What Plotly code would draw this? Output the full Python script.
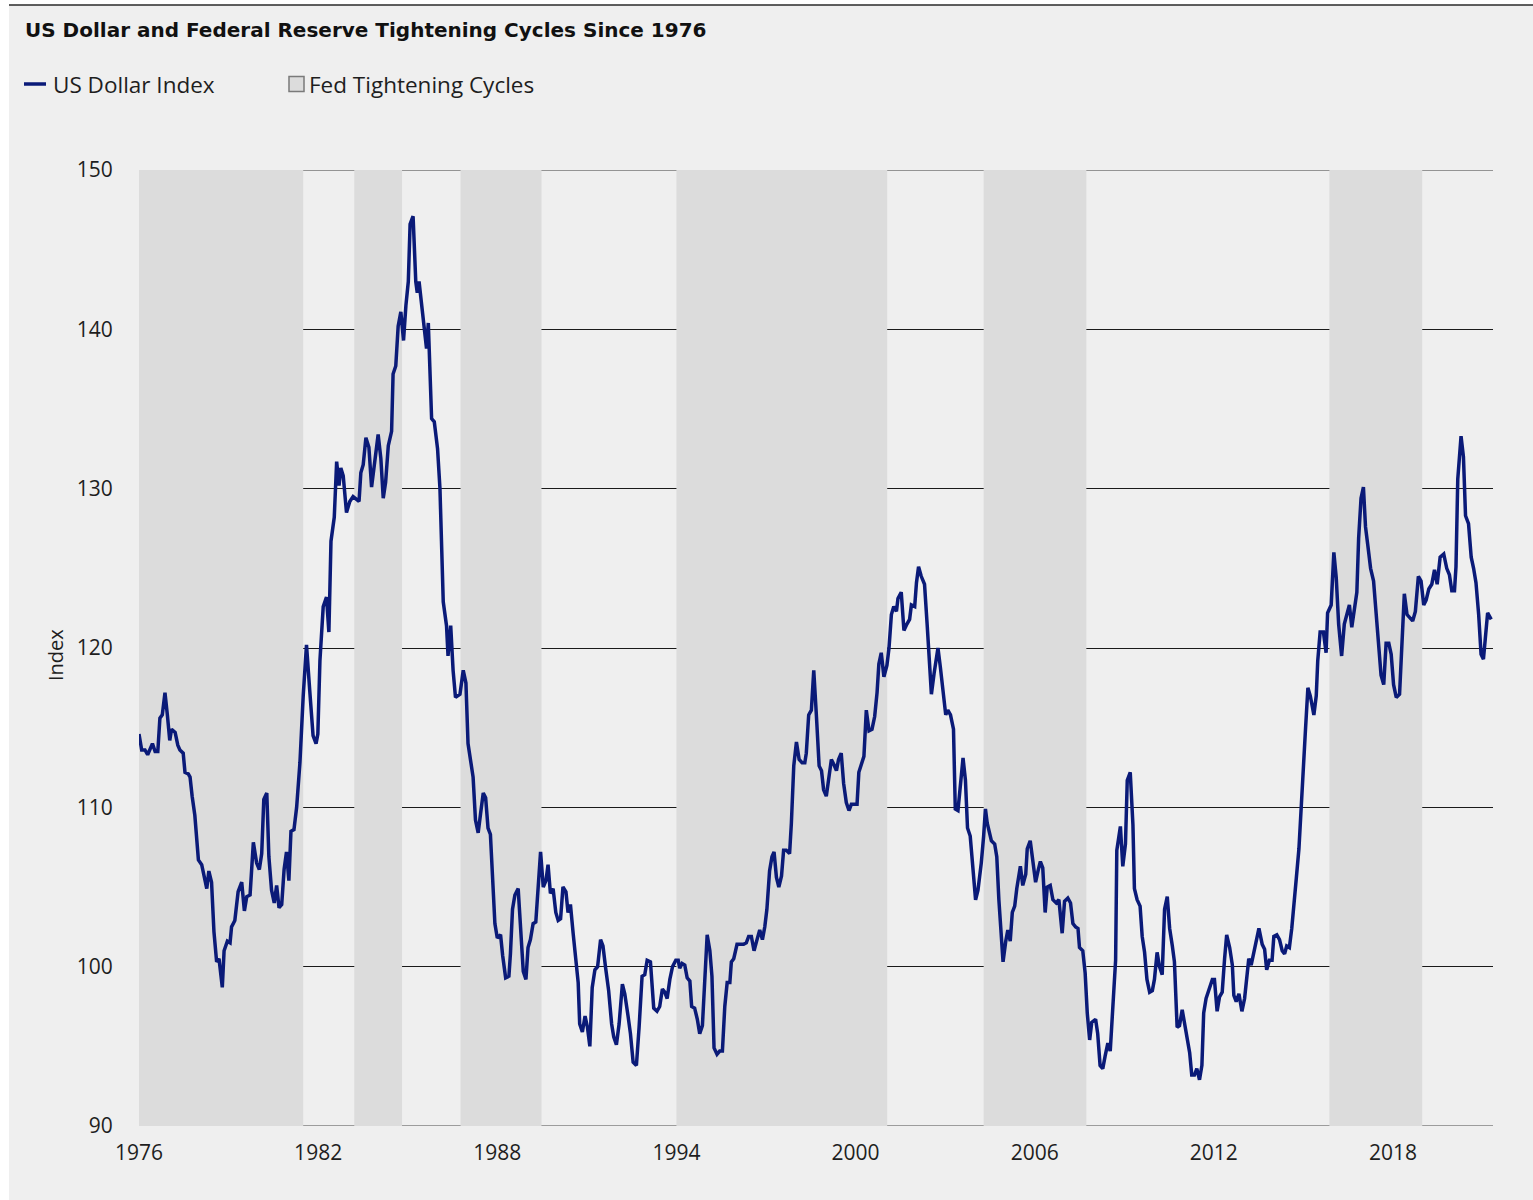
import plotly.graph_objects as go

# ---------------- data ----------------
years = [
    1976.00, 1976.09, 1976.20, 1976.29, 1976.45, 1976.54, 1976.63, 1976.70, 1976.78, 1976.87, 1976.95,
    1977.03, 1977.09, 1977.21, 1977.30, 1977.37, 1977.48, 1977.54, 1977.65, 1977.71, 1977.78, 1977.87, 1977.99,
    1978.10, 1978.27, 1978.34, 1978.43, 1978.51, 1978.60, 1978.68, 1978.79, 1978.85, 1978.96,
    1979.05, 1979.10, 1979.21, 1979.32, 1979.44, 1979.53, 1979.61, 1979.72, 1979.83, 1979.94,
    1980.03, 1980.11, 1980.18, 1980.28, 1980.35, 1980.44, 1980.53, 1980.61, 1980.69, 1980.78, 1980.86, 1980.94,
    1981.02, 1981.09, 1981.19, 1981.28, 1981.39, 1981.50, 1981.61, 1981.72, 1981.83, 1981.93, 1981.99,
    1982.06, 1982.17, 1982.28, 1982.36, 1982.43, 1982.54, 1982.62, 1982.70, 1982.76, 1982.84, 1982.95,
    1983.06, 1983.17, 1983.25, 1983.37, 1983.43, 1983.51, 1983.60, 1983.70, 1983.79, 1983.90,
    1984.01, 1984.10, 1984.18, 1984.26, 1984.35, 1984.46, 1984.51, 1984.60, 1984.68, 1984.77, 1984.86, 1984.94,
    1985.02, 1985.08, 1985.18, 1985.27, 1985.32, 1985.38, 1985.46, 1985.55, 1985.63, 1985.69, 1985.74, 1985.80, 1985.89,
    1986.00, 1986.08, 1986.13, 1986.19, 1986.30, 1986.35, 1986.44, 1986.52, 1986.60, 1986.75, 1986.86, 1986.95,
    1987.02, 1987.10, 1987.19, 1987.27, 1987.36, 1987.44, 1987.53, 1987.61, 1987.69, 1987.77, 1987.84, 1987.92,
    1988.00, 1988.11, 1988.18, 1988.28, 1988.39, 1988.44, 1988.51, 1988.59, 1988.70, 1988.78, 1988.87, 1988.96,
    1989.03, 1989.11, 1989.20, 1989.29, 1989.37, 1989.45, 1989.54, 1989.63, 1989.70, 1989.78, 1989.87, 1989.96,
    1990.04, 1990.12, 1990.20, 1990.30, 1990.37, 1990.45, 1990.54, 1990.63, 1990.71, 1990.76, 1990.85, 1990.94,
    1991.02, 1991.10, 1991.18, 1991.27, 1991.36, 1991.46, 1991.54, 1991.63, 1991.73, 1991.83, 1991.90, 1991.99,
    1992.08, 1992.19, 1992.27, 1992.38, 1992.46, 1992.55, 1992.66, 1992.75, 1992.85, 1992.94,
    1993.02, 1993.13, 1993.24, 1993.35, 1993.44, 1993.53, 1993.61, 1993.69, 1993.78, 1993.87, 1993.98,
    1994.06, 1994.11, 1994.19, 1994.28, 1994.36, 1994.45, 1994.51, 1994.61, 1994.70, 1994.78, 1994.87, 1994.95,
    1995.03, 1995.12, 1995.19, 1995.26, 1995.36, 1995.45, 1995.54, 1995.62, 1995.70, 1995.79, 1995.84, 1995.92,
    1996.03, 1996.14, 1996.25, 1996.34, 1996.42, 1996.51, 1996.60, 1996.70, 1996.79, 1996.88, 1996.96,
    1997.03, 1997.12, 1997.20, 1997.27, 1997.35, 1997.43, 1997.52, 1997.59, 1997.68, 1997.79, 1997.85, 1997.93,
    1998.02, 1998.11, 1998.21, 1998.30, 1998.35, 1998.43, 1998.52, 1998.60, 1998.69, 1998.78, 1998.86, 1998.93,
    1999.02, 1999.10, 1999.19, 1999.27, 1999.36, 1999.43, 1999.52, 1999.60, 1999.69, 1999.78, 1999.86, 1999.97,
    2000.05, 2000.11, 2000.19, 2000.28, 2000.36, 2000.45, 2000.55, 2000.64, 2000.72, 2000.78, 2000.86, 2000.95,
    2001.05, 2001.12, 2001.20, 2001.28, 2001.37, 2001.42, 2001.53, 2001.62, 2001.72, 2001.81, 2001.87, 2001.98,
    2002.04, 2002.11, 2002.20, 2002.31, 2002.40, 2002.46, 2002.54, 2002.63, 2002.76, 2002.84, 2002.93,
    2003.02, 2003.09, 2003.18, 2003.28, 2003.34, 2003.43, 2003.51, 2003.60, 2003.68, 2003.75, 2003.84, 2003.93,
    2004.02, 2004.10, 2004.21, 2004.29, 2004.35, 2004.41, 2004.55, 2004.66, 2004.73, 2004.80, 2004.86, 2004.94,
    2005.03, 2005.10, 2005.18, 2005.25, 2005.33, 2005.40, 2005.52, 2005.60, 2005.70, 2005.75, 2005.85, 2005.94,
    2006.03, 2006.11, 2006.19, 2006.27, 2006.35, 2006.42, 2006.52, 2006.61, 2006.72, 2006.81, 2006.92,
    2007.00, 2007.11, 2007.20, 2007.28, 2007.37, 2007.45, 2007.50, 2007.61, 2007.69, 2007.76, 2007.84, 2007.91,
    2008.04, 2008.11, 2008.19, 2008.28, 2008.36, 2008.45, 2008.53, 2008.62, 2008.71, 2008.75, 2008.87, 2008.95,
    2009.04, 2009.10, 2009.20, 2009.29, 2009.34, 2009.43, 2009.53, 2009.60, 2009.68, 2009.76, 2009.85, 2009.94,
    2010.01, 2010.10, 2010.18, 2010.27, 2010.35, 2010.44, 2010.52, 2010.61, 2010.68, 2010.77, 2010.85, 2010.94,
    2011.02, 2011.10, 2011.19, 2011.26, 2011.35, 2011.43, 2011.52, 2011.60, 2011.66, 2011.74, 2011.86, 2011.95,
    2012.02, 2012.11, 2012.19, 2012.28, 2012.36, 2012.43, 2012.53, 2012.62, 2012.67, 2012.75, 2012.84, 2012.94,
    2013.03, 2013.10, 2013.17, 2013.25, 2013.34, 2013.42, 2013.51, 2013.62, 2013.70, 2013.77, 2013.86, 2013.95,
    2014.01, 2014.11, 2014.20, 2014.29, 2014.37, 2014.44, 2014.53, 2014.61, 2014.68, 2014.76, 2014.85, 2014.92,
    2015.00, 2015.07, 2015.15, 2015.23, 2015.35, 2015.43, 2015.48, 2015.56, 2015.67, 2015.76, 2015.81, 2015.93,
    2016.02, 2016.10, 2016.18, 2016.28, 2016.37, 2016.45, 2016.54, 2016.62, 2016.71, 2016.79, 2016.85, 2016.93,
    2017.01, 2017.08, 2017.16, 2017.25, 2017.35, 2017.44, 2017.51, 2017.60, 2017.69, 2017.77, 2017.86, 2017.94,
    2018.02, 2018.11, 2018.22, 2018.31, 2018.38, 2018.47, 2018.57, 2018.66, 2018.75, 2018.85, 2018.94,
    2019.03, 2019.11, 2019.20, 2019.30, 2019.39, 2019.48, 2019.58, 2019.70, 2019.80, 2019.89, 2019.97,
    2020.06, 2020.11, 2020.17, 2020.28, 2020.36, 2020.43, 2020.53, 2020.62, 2020.70, 2020.78, 2020.87, 2020.95,
    2021.03, 2021.09, 2021.17, 2021.29,
]

usd_index = [
    114.6, 113.6, 113.6, 113.3, 114.0, 113.5, 113.5, 115.6, 115.8, 117.2, 115.8,
    114.2, 114.9, 114.7, 113.9, 113.6, 113.4, 112.2, 112.1, 111.9, 110.7, 109.5, 106.7,
    106.4, 104.9, 106.0, 105.3, 102.2, 100.3, 100.5, 98.7, 101.0, 101.6,
    101.5, 102.5, 102.9, 104.7, 105.3, 103.5, 104.4, 104.5, 107.8, 106.5,
    106.1, 107.1, 110.5, 110.9, 106.9, 104.8, 104.0, 105.1, 103.7, 103.9, 106.1, 107.2,
    105.4, 108.5, 108.6, 110.0, 112.8, 117.0, 120.2, 117.3, 114.5, 114.0, 114.6,
    119.2, 122.6, 123.2, 121.0, 126.7, 128.2, 131.7, 130.2, 131.3, 130.8, 128.5,
    129.2, 129.5, 129.4, 129.2, 131.0, 131.5, 133.2, 132.6, 130.1, 131.9,
    133.4, 131.9, 129.4, 130.4, 132.7, 133.6, 137.2, 137.7, 140.2, 141.1, 139.3, 141.5,
    143.0, 146.6, 147.1, 143.0, 142.3, 143.0, 141.7, 140.3, 138.8, 140.4, 137.8, 134.4, 134.2,
    132.5, 130.0, 125.8, 122.9, 121.4, 119.5, 121.4, 118.6, 116.9, 117.1, 118.6, 117.8,
    114.0, 113.0, 111.9, 109.2, 108.4, 109.6, 110.9, 110.6, 108.7, 108.3, 105.9, 102.7,
    101.8, 102.0, 100.7, 99.3, 99.4, 100.8, 103.6, 104.5, 104.9, 102.3, 99.7, 99.2,
    101.2, 101.7, 102.7, 102.8, 105.2, 107.2, 105.0, 105.4, 106.4, 104.6, 104.9, 103.4,
    102.9, 103.0, 105.0, 104.7, 103.4, 103.9, 102.1, 100.4, 99.0, 96.4, 95.9, 96.9,
    96.2, 95.0, 98.7, 99.8, 100.0, 101.7, 101.3, 99.9, 98.5, 96.4, 95.6, 95.1,
    96.4, 98.9, 98.3, 96.9, 95.8, 94.0, 93.8, 96.2, 99.4, 99.5,
    100.4, 100.3, 97.4, 97.2, 97.5, 98.6, 98.4, 98.0, 99.2, 100.0, 100.4,
    100.4, 99.9, 100.2, 100.1, 99.3, 99.1, 97.5, 97.4, 96.7, 95.8, 96.3, 99.2,
    102.0, 101.0, 99.4, 94.9, 94.5, 94.7, 94.7, 97.5, 99.0, 99.0, 100.3, 100.5,
    101.4, 101.4, 101.4, 101.5, 101.9, 101.9, 101.0, 101.7, 102.3, 101.7, 102.5,
    103.6, 106.0, 106.9, 107.2, 105.6, 105.0, 105.7, 107.3, 107.3, 107.1, 109.0, 112.6,
    114.1, 113.0, 112.8, 112.8, 113.4, 115.8, 116.1, 118.6, 115.7, 112.6, 112.3, 111.1,
    110.7, 111.7, 113.0, 112.7, 112.3, 113.0, 113.4, 111.5, 110.3, 109.8, 110.2, 110.2,
    110.2, 112.2, 112.7, 113.2, 116.1, 114.8, 114.9, 115.7, 117.2, 119.0, 119.7, 118.2,
    118.9, 120.0, 122.1, 122.6, 122.3, 123.1, 123.5, 121.1, 121.5, 121.8, 122.7, 122.6,
    124.1, 125.1, 124.5, 124.0, 121.4, 119.5, 117.1, 118.4, 120.0, 118.8, 117.4,
    115.8, 116.1, 115.8, 114.9, 109.9, 109.8, 111.5, 113.1, 111.7, 108.7, 108.2, 106.3,
    104.2, 104.8, 106.5, 108.2, 109.9, 109.0, 107.9, 107.7, 106.9, 104.2, 102.1, 100.3,
    101.6, 102.3, 101.6, 103.4, 103.8, 104.9, 106.3, 105.1, 105.8, 107.4, 107.9, 106.7,
    105.3, 106.0, 106.6, 106.2, 103.4, 105.0, 105.1, 104.2, 104.0, 104.2, 102.1,
    104.1, 104.3, 104.0, 102.7, 102.5, 102.4, 101.2, 101.0, 99.6, 97.1, 95.4, 96.5,
    96.7, 95.8, 93.8, 93.6, 94.4, 95.2, 94.7, 97.3, 100.4, 107.3, 108.8, 106.3,
    107.7, 111.7, 112.2, 108.9, 104.9, 104.2, 103.8, 101.9, 100.9, 99.2, 98.4, 98.5,
    99.2, 100.9, 100.0, 99.5, 103.6, 104.4, 102.4, 101.3, 100.3, 96.2, 96.3, 97.3,
    96.4, 95.4, 94.6, 93.2, 93.2, 93.6, 92.9, 93.8, 97.1, 98.0, 98.7, 99.2,
    99.2, 97.2, 98.1, 98.4, 100.5, 102.0, 101.2, 100.1, 98.2, 97.8, 98.3, 97.2,
    98.0, 99.3, 100.5, 100.1, 101.0, 101.7, 102.4, 101.4, 101.1, 99.8, 100.4, 100.4,
    101.9, 102.0, 101.7, 101.0, 100.8, 101.3, 101.2, 102.4, 104.1, 105.5, 107.4, 110.1,
    112.7, 114.9, 117.5, 117.0, 115.8, 117.0, 119.2, 121.0, 121.0, 119.7, 122.2, 122.7,
    126.0, 124.4, 121.5, 119.5, 121.5, 122.1, 122.7, 121.3, 122.6, 123.5, 126.9, 129.4,
    130.1, 127.6, 126.4, 125.0, 124.2, 122.1, 120.0, 118.3, 117.7, 120.3, 120.3, 119.6,
    117.7, 116.9, 117.1, 121.2, 123.4, 122.1, 121.9, 121.7, 122.3, 124.5, 124.2,
    122.7, 123.0, 123.7, 124.0, 124.9, 124.0, 125.7, 125.9, 125.0, 124.6, 123.6,
    123.6, 125.1, 130.6, 133.3, 132.0, 128.3, 127.8, 125.7, 125.0, 124.1, 122.1, 119.6,
    119.3, 120.6, 122.2, 121.8,
]

cycle_starts = [1976.00, 1983.21, 1986.77, 1994.00, 2004.29, 2015.87]
cycle_ends = [1981.50, 1984.81, 1989.48, 2001.06, 2007.73, 2018.98]

x_ticks = [1976, 1982, 1988, 1994, 2000, 2006, 2012, 2018]
x_tick_labels = [str(v) for v in x_ticks]
y_ticks = [90, 100, 110, 120, 130, 140, 150]

title_text = "US Dollar and Federal Reserve Tightening Cycles Since 1976"
line_name = "US Dollar Index"
band_name = "Fed Tightening Cycles"
y_title = "Index"

# ---------------- styling ----------------
W, H = 1533, 1200
L, R, T, B = 139, 40, 170, 74
PW, PH = W - L - R, H - T - B
NAVY = "#0a1a78"
BAND = "#dcdcdc"
PANEL = "#efefef"
FONT = "Open Sans"
TITLE_FONT = "DejaVu Sans"
TXT = "#1e1e1e"
GRID = "#1a1a1a"


def px_x(px):
    return (px - L) / PW


def px_y(py):
    return (H - B - py) / PH


fig = go.Figure()
fig.add_trace(go.Scatter(
    x=years, y=usd_index, mode="lines", name=line_name,
    line=dict(color=NAVY, width=3.5), showlegend=False, hoverinfo="skip",
))

shapes = []
# bottom edge line (covered by the cycle bands)
shapes.append(dict(type="line", xref="paper", yref="y", x0=0, x1=1, y0=90, y1=90,
                   line=dict(color="#4a4a4a", width=1.2), layer="between"))
for s, e in zip(cycle_starts, cycle_ends):
    shapes.append(dict(type="rect", xref="x", yref="y", x0=s, x1=e, y0=90, y1=150,
                       fillcolor=BAND, line=dict(width=0), layer="between"))
# top edge line (drawn over the bands)
shapes.append(dict(type="line", xref="paper", yref="y", x0=0, x1=1, y0=150, y1=150,
                   line=dict(color="#3a3a3a", width=1.2), layer="between"))

# white page strips and top rule
shapes.append(dict(type="rect", xref="paper", yref="paper", x0=px_x(-5), x1=px_x(W + 5),
                   y0=px_y(5), y1=px_y(-5), fillcolor="white", line=dict(width=0), layer="below"))
shapes.append(dict(type="rect", xref="paper", yref="paper", x0=px_x(-5), x1=px_x(9),
                   y0=px_y(H + 5), y1=px_y(-5), fillcolor="white", line=dict(width=0), layer="below"))
shapes.append(dict(type="line", xref="paper", yref="paper", x0=px_x(9), x1=px_x(W + 5),
                   y0=px_y(5), y1=px_y(5), line=dict(color="#2a2a2a", width=1.5), layer="above"))

# legend
shapes.append(dict(type="line", xref="paper", yref="paper", x0=px_x(24), x1=px_x(46),
                   y0=px_y(84), y1=px_y(84), line=dict(color=NAVY, width=3.5)))
shapes.append(dict(type="rect", xref="paper", yref="paper", x0=px_x(289), x1=px_x(304),
                   y0=px_y(91.5), y1=px_y(76.5), fillcolor=BAND, line=dict(color="#7a7a7a", width=1.5)))

annotations = [
    dict(text="<b>" + title_text + "</b>", xref="paper", yref="paper", x=px_x(23), y=px_y(30),
         xanchor="left", yanchor="middle", showarrow=False,
         font=dict(family=TITLE_FONT, size=20, color="#111111")),
    dict(text=line_name, xref="paper", yref="paper", x=px_x(51), y=px_y(84),
         xanchor="left", yanchor="middle", showarrow=False, font=dict(family=FONT, size=22.5, color=TXT)),
    dict(text=band_name, xref="paper", yref="paper", x=px_x(307), y=px_y(84),
         xanchor="left", yanchor="middle", showarrow=False, font=dict(family=FONT, size=22.5, color=TXT)),
    dict(text=y_title, xref="paper", yref="paper", x=px_x(55), y=px_y(655), textangle=-90,
         xanchor="center", yanchor="middle", showarrow=False, font=dict(family=FONT, size=20, color=TXT)),
]

fig.update_layout(
    width=W, height=H,
    margin=dict(l=L, r=R, t=T, b=B, pad=0),
    paper_bgcolor=PANEL, plot_bgcolor=PANEL,
    font=dict(family=FONT, size=21, color=TXT),
    showlegend=False, hovermode=False,
    shapes=shapes, annotations=annotations,
    xaxis=dict(range=[1976, 2021.35], tickmode="array", tickvals=x_ticks, ticktext=x_tick_labels,
               showgrid=False, zeroline=False, showline=False, ticks="outside", ticklen=8,
               tickcolor="rgba(0,0,0,0)", tickfont=dict(family=FONT, size=21, color=TXT), fixedrange=True),
    yaxis=dict(range=[90, 150], tickmode="array", tickvals=y_ticks, showgrid=True,
               gridcolor=GRID, gridwidth=1.2, zeroline=False, showline=False,
               ticks="outside", ticklen=21, tickcolor="rgba(0,0,0,0)",
               tickfont=dict(family=FONT, size=21, color=TXT), fixedrange=True),
)

# remove the browser's default page margin so the figure sits at the window origin
fig.write_html("out.html", config={"displayModeBar": False},
               post_script="document.body.style.margin='0px';")
